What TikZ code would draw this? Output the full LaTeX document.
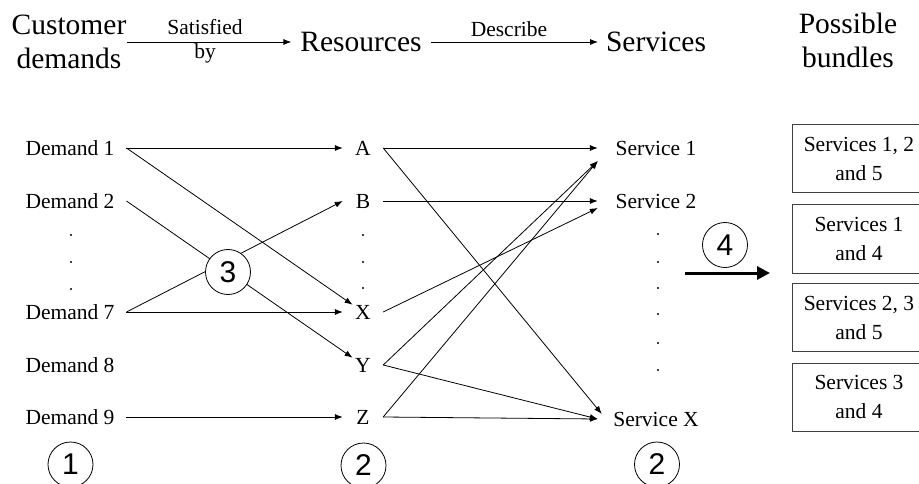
\documentclass[tikz,border=0pt]{standalone}
\usepackage{fontspec}
\setmainfont{Liberation Serif}
\newfontfamily\numfont{Liberation Sans}
\usetikzlibrary{arrows.meta}

\begin{document}
\begin{tikzpicture}[x=1pt,y=-1pt,
  big/.style={font=\fontsize{29.5}{34}\selectfont, inner sep=0pt, align=center},
  small/.style={font=\fontsize{21.5}{26}\selectfont, inner sep=0pt},
  demand/.style={small, outer xsep=12pt},
  res/.style={small, minimum width=40pt, minimum height=14pt},
  serv/.style={small, minimum width=116pt, minimum height=22pt},
  bundle/.style={draw=black!75, line width=1pt, minimum width=134pt,
    minimum height=68pt, align=center, inner sep=0pt,
    font=\fontsize{21.5}{29}\selectfont},
  num/.style={circle, draw, fill=white, line width=0.8pt, minimum size=45pt,
    inner sep=0pt, font=\numfont\fontsize{30}{30}\selectfont},
  link/.style={line width=0.8pt, -{Latex[length=8pt,width=6pt]}},
  bold link/.style={line width=3pt, -{Triangle[length=13pt,width=13pt]}},
  dot/.style={circle, fill, inner sep=0pt, minimum size=2.4pt}
]
\useasboundingbox (0,0) rectangle (919,484);
\clip (0,0) rectangle (919,484);

% header row
\node[big] (cust) at (69,42) {Customer\\demands};
\node[big, outer xsep=9pt] (resh) at (361,42) {Resources};
\node[big, outer xsep=8pt] (servh) at (656,42) {Services};
\node[big] (pb) at (848,40) {Possible\\bundles};
\node[small] (sat) at (205,27) {Satisfied};
\node[small] (by) at (205,53) {by};
\node[small] (desc) at (509,29) {Describe};
\draw[link] (cust.east) -- (resh.west);
\draw[link] (resh.east) -- (servh.west);

% customer demands
\node[demand] (d1) at (70,148) {Demand 1};
\node[demand] (d2) at (70,201) {Demand 2};
\node[demand] (d7) at (70,312) {Demand 7};
\node[demand] (d8) at (70,365) {Demand 8};
\node[demand] (d9) at (70,417) {Demand 9};
\foreach \y [count=\i] in {235,262,289}
  \node[dot] (dd\i) at (71,\y) {};

% resources
\node[res] (A) at (363,148) {A};
\node[res] (B) at (363,201) {B};
\node[res] (X) at (363,312) {X};
\node[res] (Y) at (363,365) {Y};
\node[res] (Z) at (363,417) {Z};
\foreach \y [count=\i] in {235,262,288}
  \node[dot] (rd\i) at (363,\y) {};

% services
\node[serv] (s1) at (656,148) {Service 1};
\node[serv] (s2) at (656,201) {Service 2};
\node[serv] (sx) at (656,419) {Service X};
\foreach \y [count=\i] in {234,262,288,314,343,370}
  \node[dot] (sd\i) at (658,\y) {};

% demands satisfied by resources
\draw[link] (d1.east) -- (A.west);
\draw[link] (d1.east) -- (X);
\draw[link] (d2.east) -- (Y);
\draw[link] (d7.east) -- (B.west);
\draw[link] (d7.east) -- (X.west);
\draw[link] (d9.east) -- (Z.west);

% resources describe services
\draw[link] (A.east) -- (s1.west);
\draw[link] (A.east) -- ([xshift=4pt,yshift=5pt]sx.west);
\draw[link] (B.east) -- (s2.west);
\draw[link] (X.east) -- ([yshift=-7pt]s2.west);
\draw[link] (Y.east) -- ([yshift=-13pt]s1.west);
\draw[link] (Z.east) -- ([yshift=-13pt]s1.west);
\draw[link] (Y.east) -- (sx.west);
\draw[link] (Z.east) -- (sx.west);

% possible bundles
\node[bundle] (b1) at (859,159) {Services 1, 2\\and 5};
\node[bundle] (b2) at (859,239) {Services 1\\and 4};
\node[bundle] (b3) at (859,317.5) {Services 2, 3\\and 5};
\node[bundle] (b4) at (859,397) {Services 3\\and 4};
\coordinate (bs) at (685,273);
\coordinate (be) at (770,273);
\draw[bold link] (bs) -- (be);

% step numbers
\node[num] (n1) at (70.5,464.5) {1};
\node[num] (n2) at (363.5,465.5) {2};
\node[num] (n2s) at (657,464.5) {2};
\node[num] (n3) at (228,272) {3};
\node[num] (n4) at (725,245) {4};
\end{tikzpicture}
\end{document}
